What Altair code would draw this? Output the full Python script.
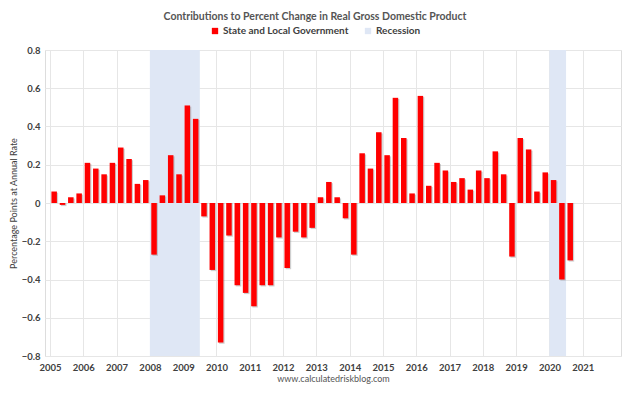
import altair as alt
import pandas as pd

# Quarterly contributions, 2005Q1 onward
values = [0.06, -0.01, 0.03, 0.05,
          0.21, 0.18, 0.15, 0.21,
          0.29, 0.23, 0.10, 0.12,
          -0.27, 0.04, 0.25, 0.15,
          0.51, 0.44, -0.07, -0.35,
          -0.73, -0.17, -0.43, -0.47,
          -0.54, -0.43, -0.43, -0.18,
          -0.34, -0.15, -0.18, -0.13,
          0.03, 0.11, 0.03, -0.08,
          -0.27, 0.26, 0.18, 0.37,
          0.25, 0.55, 0.34, 0.05,
          0.56, 0.09, 0.21, 0.17,
          0.11, 0.13, 0.07, 0.17,
          0.13, 0.27, 0.15, -0.28,
          0.34, 0.28, 0.06, 0.16,
          0.12, -0.40, -0.30]
start_year = 2005
rec_start = [2008.0, 2020.0]
rec_end = [2009.5, 2020.5]
year_ticks = list(range(2005, 2022))
y_ticks = [-0.8, -0.6, -0.4, -0.2, 0, 0.2, 0.4, 0.6, 0.8]

S1 = "State and Local Government"
S2 = "Recession"

bars = pd.DataFrame({
    "t": [start_year + i / 4 + 0.125 for i in range(len(values))],
    "v": values,
    "series": S1,
})
rec = pd.DataFrame({"s": rec_start, "e": rec_end, "series": S2})

FONT = "Lato"
LAB = "#404040"
W, H = 576, 306
xscale = alt.Scale(domain=[2005, 2022], nice=False, zero=False)
yscale = alt.Scale(domain=[-0.8, 0.8], nice=False)

xaxis = alt.Axis(values=year_ticks, format="d", title="www.calculatedriskblog.com",
                 titleFont=FONT, titleFontSize=9, titleFontWeight="normal",
                 titleColor="#555555", titlePadding=3,
                 labelFont=FONT, labelFontSize=9.5, labelFontWeight="bold",
                 labelColor=LAB, labelPadding=6, labelOverlap=False,
                 ticks=False, domain=False, gridColor="#e6e6e6", labelFlush=False)
yaxis = alt.Axis(values=y_ticks, format=".1~f", title="Percentage Points at Annual Rate",
                 titleFont=FONT, titleFontSize=9, titleFontWeight="normal",
                 titleColor=LAB, titlePadding=3,
                 labelFont=FONT, labelFontSize=9.5, labelFontWeight="bold",
                 labelColor=LAB, labelPadding=5, labelOverlap=False,
                 ticks=False, domain=False, gridColor="#e6e6e6")

color = alt.Color("series:N",
                  scale=alt.Scale(domain=[S1, S2], range=["#ff0000", "#dfe7f5"]),
                  legend=alt.Legend(title=None, orient="none", legendX=165, legendY=-24,
                                    direction="horizontal", symbolType="square",
                                    symbolSize=40, symbolStrokeWidth=0,
                                    labelFont=FONT, labelFontSize=10, labelFontWeight="bold",
                                    labelColor=LAB, columnPadding=14, labelOffset=3))

recession = alt.Chart(rec).mark_rect().encode(
    x=alt.X("s:Q", scale=xscale, axis=xaxis),
    x2="e:Q",
    y=alt.value(0),
    y2=alt.value(H),
    color=color,
)

shadow = alt.Chart(bars).mark_bar(size=5.5, orient="vertical", color="#888888",
                                  opacity=0.4, xOffset=1.2, yOffset=1.2).encode(
    x=alt.X("t:Q", scale=xscale, axis=xaxis),
    y=alt.Y("v:Q", scale=yscale, axis=yaxis),
    y2=alt.datum(0),
)

main = alt.Chart(bars).mark_bar(size=5.5, orient="vertical").encode(
    x=alt.X("t:Q", scale=xscale, axis=xaxis),
    y=alt.Y("v:Q", scale=yscale, axis=yaxis),
    y2=alt.datum(0),
    color=color,
)

chart = alt.layer(recession, shadow, main).properties(
    width=W, height=H,
    autosize=alt.AutoSizeParams(type="none"),
    padding={"left": 37, "top": 42, "right": 1, "bottom": 29},
    title=alt.Title("Contributions to Percent Change in Real Gross Domestic Product",
                    font=FONT, fontSize=10.5, fontWeight="bold", color="#555555",
                    anchor="middle", offset=4, dx=-18),
).configure_view(stroke="#dcdcdc").configure(background="white")

chart.save("out.html", embed_options={"renderer": "svg", "actions": False})
